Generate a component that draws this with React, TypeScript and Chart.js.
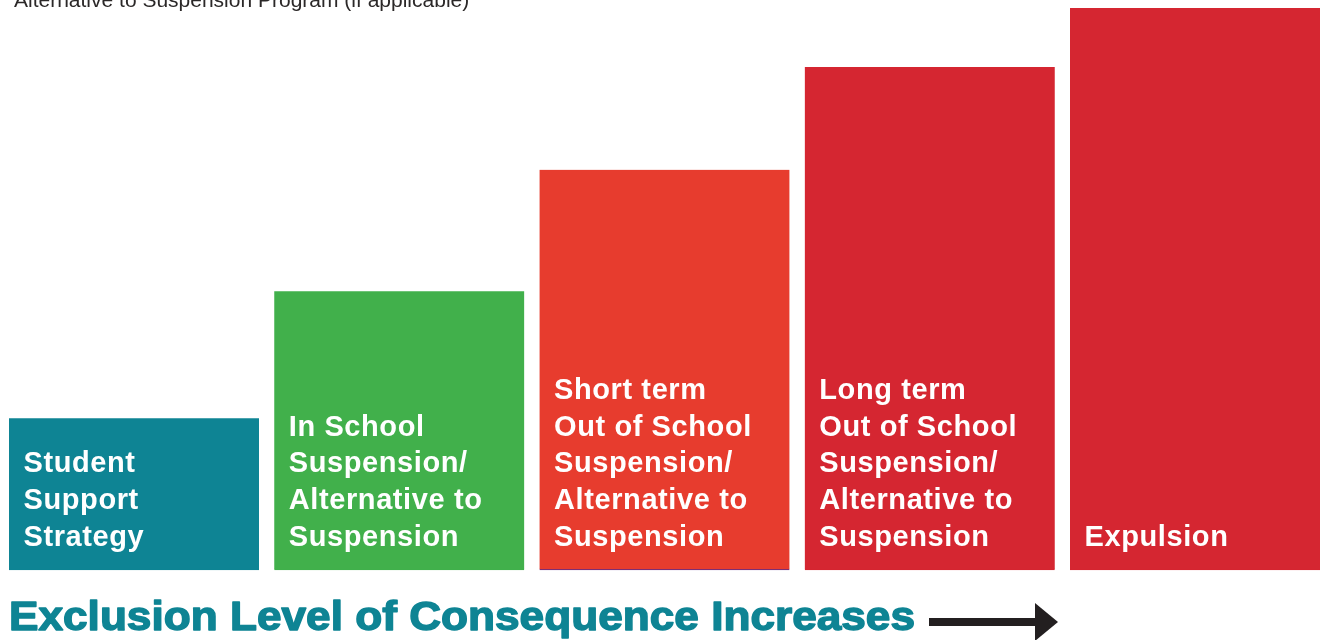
import React, { useEffect, useRef } from "react";
import { Chart, registerables } from "chart.js";

Chart.register(...registerables);

const categories: string[][] = [
  ["Student", "Support", "Strategy"],
  ["In School", "Suspension/", "Alternative to", "Suspension"],
  ["Short term", "Out of School", "Suspension/", "Alternative to", "Suspension"],
  ["Long term", "Out of School", "Suspension/", "Alternative to", "Suspension"],
  ["Expulsion"],
];
const exclusionLevel: number[] = [27, 49.6, 71.2, 89.5, 100];
const barColors: string[] = ["#0e8494", "#41b04b", "#e73c2e", "#d52631", "#d52631"];
const borderColors: string[] = ["#0e8494", "#41b04b", "#5a2a8c", "#d52631", "#d52631"];
const topNote = "Alternative to Suspension Program (if applicable)";
const footerTitle = "Exclusion Level of Consequence Increases";

const decorPlugin = {
  id: "decor",
  afterDatasetsDraw(chart: any) {
    const ctx = chart.ctx as any;
    const meta = chart.getDatasetMeta(0);
    ctx.save();
    // bar labels
    ctx.fillStyle = "#ffffff";
    ctx.font = 'bold 29px "Liberation Sans", Arial, sans-serif';
    ctx.textAlign = "left";
    ctx.textBaseline = "alphabetic";
    ctx.letterSpacing = "0.6px";
    meta.data.forEach((el: any, i: number) => {
      const lines = categories[i];
      const left = el.x - el.width / 2 + 14.5;
      const lastBaseline = el.base - 24;
      const step = 36.8;
      lines.forEach((ln, j) => {
        const y = lastBaseline - (lines.length - 1 - j) * step;
        ctx.fillText(ln, left, y);
      });
    });
    ctx.letterSpacing = "0px";
    // top note (cut off)
    ctx.fillStyle = "#2b2828";
    ctx.font = '21px "Liberation Sans", Arial, sans-serif';
    ctx.fillText(topNote, 14, 7);
    // footer title
    ctx.fillStyle = "#0e8494";
    ctx.strokeStyle = "#0e8494";
    ctx.lineWidth = 1.4;
    ctx.lineJoin = "round";
    ctx.font = 'bold 40px "Liberation Sans", Arial, sans-serif';
    const w = ctx.measureText(footerTitle).width;
    const target = 906;
    ctx.save();
    ctx.translate(9, 630);
    ctx.scale(target / w, 1);
    ctx.fillText(footerTitle, 0, 0);
    ctx.strokeText(footerTitle, 0, 0);
    ctx.restore();
    // arrow
    ctx.fillStyle = "#231f20";
    ctx.fillRect(929, 618, 109, 8);
    ctx.beginPath();
    ctx.moveTo(1035, 603);
    ctx.lineTo(1058, 622);
    ctx.lineTo(1035, 641);
    ctx.closePath();
    ctx.fill();
    ctx.restore();
  },
};

export default function App() {
  const ref = useRef<HTMLCanvasElement>(null);
  useEffect(() => {
    if (!ref.current) return;
    const chart = new Chart(ref.current, {
      type: "bar",
      data: {
        labels: categories.map((c) => c.join(" ")),
        datasets: [
          {
            data: exclusionLevel,
            backgroundColor: barColors,
            borderColor: borderColors,
            borderWidth: { top: 0, left: 0, right: 0, bottom: 1 },
            borderSkipped: false,
            barThickness: 250,
            clip: false as any,
          },
        ],
      },
      options: {
        responsive: false,
        animation: false,
        devicePixelRatio: 1,
        layout: { padding: { left: 134, right: 126, top: 8, bottom: 70 } },
        plugins: { legend: { display: false }, tooltip: { enabled: false }, title: { display: false } },
        scales: {
          x: { display: false, offset: false, grid: { offset: false } },
          y: { display: false, min: 0, max: 100 },
        },
      },
      plugins: [decorPlugin],
    });
    return () => chart.destroy();
  }, []);
  return (
    <div style={{ position: "absolute", left: 0, top: 0, width: 1321, height: 640, overflow: "hidden", background: "#fff" }}>
      <canvas ref={ref} width={1321} height={640} style={{ display: "block" }} />
    </div>
  );
}
